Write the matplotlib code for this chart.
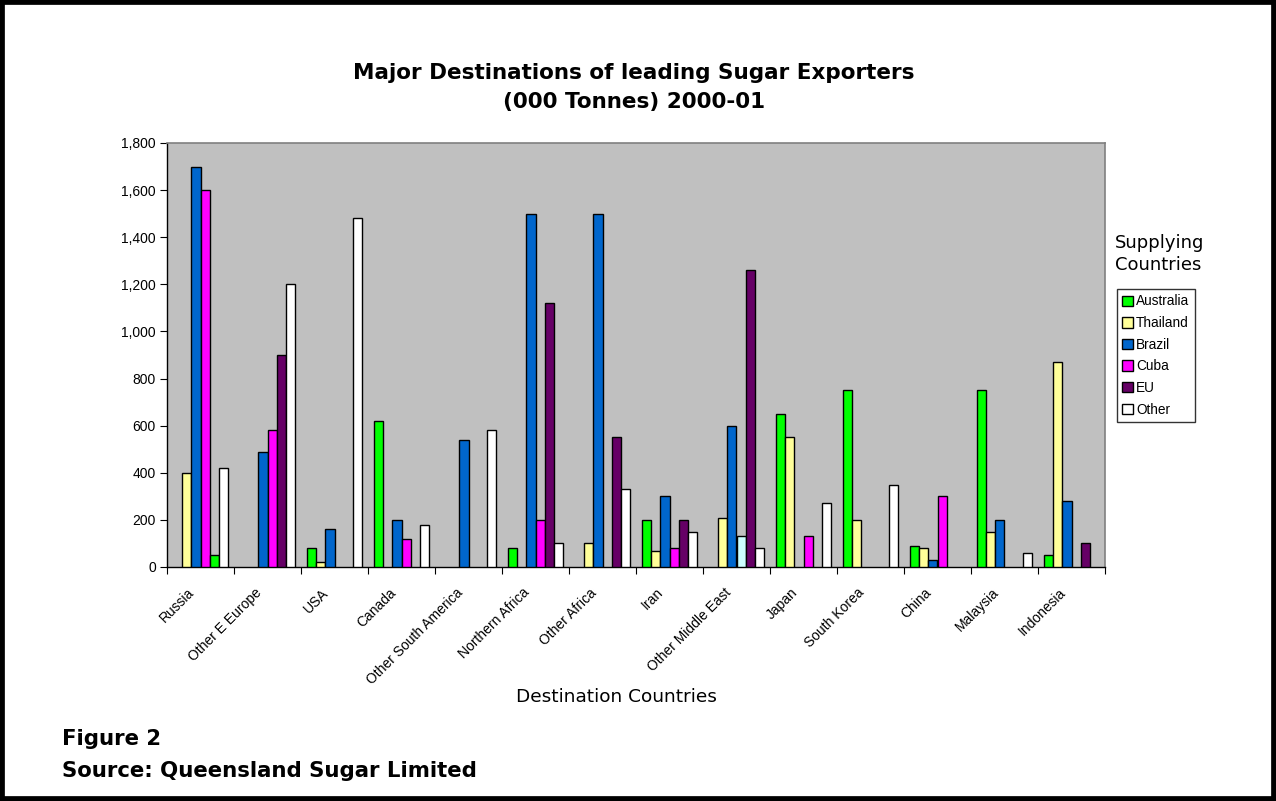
import numpy as np
import matplotlib.pyplot as plt
from matplotlib.patches import Rectangle, Patch

# destinations (x axis groups)
destinations = ["Russia", "Other E Europe", "USA", "Canada", "Other South America",
                "Northern Africa", "Other Africa", "Iran", "Other Middle East", "Japan",
                "South Korea", "China", "Malaysia", "Indonesia"]

# supplier exports, 000 tonnes (nan = nothing shipped)
nan = np.nan
australia = [nan, nan, 80, 620, nan, 80, nan, 200, nan, 650, 750, 90, 750, 50]
thailand  = [400, nan, 20, nan, nan, nan, 100, 70, 210, 550, 200, 80, 150, 870]
brazil    = [1700, 490, 160, 200, 540, 1500, 1500, 300, 600, nan, nan, 30, 200, 280]
cuba      = [1600, 580, nan, 120, nan, 200, nan, 80, 130, 130, nan, 300, nan, nan]
eu        = [50, 900, nan, nan, nan, 1120, 550, 200, 1260, nan, nan, nan, nan, 100]
other     = [420, 1200, 1480, 180, 580, 100, 330, 150, 80, 270, 350, nan, 60, nan]

suppliers = ["Australia", "Thailand", "Brazil", "Cuba", "EU", "Other"]
series = [australia, thailand, brazil, cuba, eu, other]
colors = ["#00FF00", "#FFFF99", "#0066CC", "#FF00FF", "#660066", "#FFFFFF"]

# a couple of points were coloured individually in the original workbook
point_colors = {(4, 0): "#00FF00", (3, 8): "#CCFFFF"}

W, H = 1276, 801
fig = plt.figure(figsize=(W / 100, H / 100), dpi=100)
fig.patch.set_facecolor("white")

ax = fig.add_axes([167 / W, 1 - 567 / H, (1105 - 167) / W, (567 - 143) / H])
ax.set_facecolor("#C0C0C0")

n = len(destinations)
bw = 0.138
x = np.arange(n)
for k, (vals, col) in enumerate(zip(series, colors)):
    pos = x + 0.5 + (k - 2.5) * bw
    cols = [point_colors.get((k, i), col) for i in range(n)]
    ax.bar(pos, vals, width=bw, color=cols, edgecolor="black", linewidth=1.0, zorder=3)

ax.set_xlim(0, n)
ax.set_ylim(0, 1800)
ax.set_yticks(range(0, 1801, 200))
ax.set_yticklabels([f"{v:,}" for v in range(0, 1801, 200)],
                   fontfamily="Liberation Sans", fontsize=10)

# ticks on the group boundaries; the slanted labels hang just left of each group centre
ax.set_xticks(np.arange(0, n + 1))
ax.set_xticklabels([])
ax.set_xticks(x + 0.5 - 0.12, minor=True)
ax.set_xticklabels(destinations, minor=True, rotation=45, ha="right", va="center",
                   rotation_mode="anchor", fontfamily="Liberation Sans", fontsize=10)
ax.tick_params(axis="x", which="minor", length=0, pad=17)
ax.tick_params(axis="x", which="major", length=5, direction="out")
ax.tick_params(axis="y", length=5, direction="out", pad=3)

for s in ["top", "right"]:
    ax.spines[s].set_color("#808080")
    ax.spines[s].set_linewidth(1.2)
for s in ["left", "bottom"]:
    ax.spines[s].set_color("black")
    ax.spines[s].set_linewidth(1.0)

fig.text(634 / W, 1 - 73 / H, "Major Destinations of leading Sugar Exporters",
         ha="center", va="center", fontsize=15.5, fontweight="bold")
fig.text(634 / W, 1 - 102 / H, "(000 Tonnes) 2000-01",
         ha="center", va="center", fontsize=15.5, fontweight="bold")

fig.text(616 / W, 1 - 697 / H, "Destination Countries", ha="center", va="center",
         fontsize=13.3)

fig.text(1115 / W, 1 - 254 / H, "Supplying\nCountries", ha="left", va="center",
         fontsize=13, linespacing=1.35)

handles = [Patch(facecolor=c, edgecolor="black", linewidth=1.0) for c in colors]
leg = fig.legend(handles, suppliers, loc="upper left",
                 bbox_to_anchor=(1117 / W, 1 - 289 / H),
                 prop={"family": "Liberation Sans", "size": 9.8},
                 frameon=True, fancybox=False, edgecolor="black",
                 handlelength=0.8, handleheight=0.8, handletextpad=0.2,
                 labelspacing=0.56, borderpad=0.4, borderaxespad=0)
leg.get_frame().set_linewidth(1.0)

fig.text(62 / W, 1 - 739 / H, "Figure 2", ha="left", va="center",
         fontsize=15.3, fontweight="bold")
fig.text(62 / W, 1 - 771 / H, "Source: Queensland Sugar Limited", ha="left",
         va="center", fontsize=15.3, fontweight="bold")

# heavy frame round the whole figure
fig.patches.append(Rectangle((0, 0), 1, 1, transform=fig.transFigure, fill=False,
                             edgecolor="black", linewidth=7, zorder=10))

fig.savefig("out.png", dpi=100)
